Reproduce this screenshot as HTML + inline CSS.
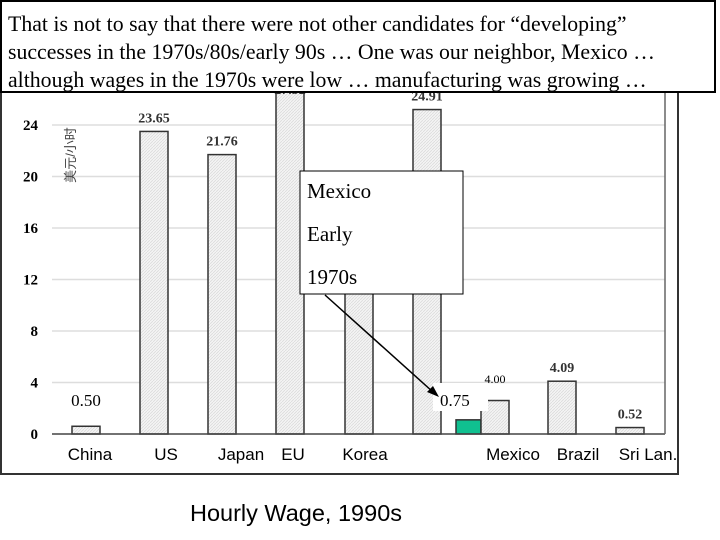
<!DOCTYPE html>
<html><head><meta charset="utf-8"><style>
body{margin:0;background:#fff;}
#wrap{position:relative;width:720px;height:540px;overflow:hidden;background:#fff;}
.title{position:absolute;left:0;top:0;width:716px;height:93px;border:2px solid #000;background:#fff;font-family:"Liberation Serif",serif;font-size:21.8px;line-height:28px;padding:8px 0 0 6px;box-sizing:border-box;z-index:3;white-space:nowrap;}
</style></head><body>
<div id="wrap">
<div class="title">That is not to say that there were not other candidates for “developing”<br>successes in the 1970s/80s/early 90s … One was our neighbor, Mexico …<br>although wages in the 1970s were low … manufacturing was growing …</div>
<svg id="chart" width="720" height="540" style="position:absolute;left:0;top:0">
<defs><pattern id="hat" width="3" height="3" patternUnits="userSpaceOnUse"><rect width="3" height="3" fill="#f4f4f4"/><path d="M0 3L3 0" stroke="#d8d8d8" stroke-width="0.7"/></pattern></defs>
<rect x="1" y="88" width="677" height="386" fill="none" stroke="#333" stroke-width="2"/>
<g id="grid"></g><g id="bars"></g><g id="labels"></g>
<line x1="52" y1="434" x2="665" y2="434" stroke="#444" stroke-width="1.5"/>
<line x1="665" y1="88" x2="665" y2="434" stroke="#666" stroke-width="1.5"/>
<text x="75" y="155" transform="rotate(-90 75 155)" text-anchor="middle" font-family="Liberation Sans,'Noto Sans CJK SC',sans-serif" font-size="13" fill="#444">美元/小时</text>
<rect x="300" y="171" width="163" height="123" fill="#fff" stroke="#000"/>
<text font-family="Liberation Serif,serif" font-size="21"><tspan x="307" y="198">Mexico</tspan><tspan x="307" y="241">Early</tspan><tspan x="307" y="284">1970s</tspan></text>
<rect x="433" y="383" width="55" height="28" fill="#fff"/>
<text x="440" y="406" font-family="Liberation Serif,serif" font-size="17">0.75</text>
<line x1="325" y1="295" x2="433" y2="392" stroke="#000" stroke-width="1.5"/>
<polygon points="439,397 427,392 433,386" fill="#000"/>
<text x="296" y="521" text-anchor="middle" font-family="Liberation Sans,sans-serif" font-size="23.5">Hourly Wage, 1990s</text>
</svg>
</div>
<script>
const categories=["China","US","Japan","EU","Korea","","MexicoEarly","Mexico","Brazil","Sri Lan."];
const values=[0.6,23.5,21.7,30,13,25.2,1.1,2.6,4.1,0.5];
const printed=["0.50","23.65","21.76","27.32","","24.91","","4.00","4.09","0.52"];
const yTicks=[0,4,8,12,16,20,24];
const barX=[72,140,208,276,345,413,456,481,548,616];
const ns="http://www.w3.org/2000/svg";
const y0=434,pxu=12.875;
function yS(v){return y0-v*pxu;}
function mk(t,a,p){const e=document.createElementNS(ns,t);for(const k in a)e.setAttribute(k,a[k]);p.appendChild(e);return e;}
const grid=document.getElementById('grid'),bars=document.getElementById('bars'),lab=document.getElementById('labels');
yTicks.forEach(t=>{
 if(t>0){const l=mk('line',{x1:52,x2:665,y1:yS(t),y2:yS(t),stroke:'#ddd','stroke-width':1.5},grid);
 
 }
 const tx=mk('text',{x:38,y:yS(t)+5,'text-anchor':'end','font-family':'Liberation Serif,serif','font-weight':'bold','font-size':15},grid);
 tx.textContent=t;
 
 
});
values.forEach((v,i)=>{
 const top=Math.max(yS(v),88);const w=i==6?25:28;
 const r=mk('rect',{x:barX[i],y:top,width:w,height:y0-top,fill:i==6?'#10c090':'url(#hat)',stroke:'#333','stroke-width':1.5},bars);
 
 
 if(printed[i]&&i!==0&&i!==7){const t=mk('text',{x:barX[i]+14,y:Math.max(yS(v)-9,94),'text-anchor':'middle','font-family':'Liberation Serif,serif','font-weight':'bold','font-size':14,fill:'#333'},lab);
 t.textContent=printed[i];
 
 }
});
const c=mk('text',{x:86,y:406,'text-anchor':'middle','font-family':'Liberation Serif,serif','font-size':17},lab);c.textContent=printed[0];


const m=mk('text',{x:495,y:383,'text-anchor':'middle','font-family':'Liberation Serif,serif','font-size':12},lab);m.textContent=printed[7];


const catX=[90,166,241,293,365,null,513,578,648];
["China","US","Japan","EU","Korea","","Mexico","Brazil","Sri Lan."].forEach((n,i)=>{if(!n)return;
 const t=mk('text',{x:catX[i],y:460,'text-anchor':'middle','font-family':'Liberation Sans,sans-serif','font-size':17},lab);t.textContent=n;
 
 });
</script>
</body></html>
